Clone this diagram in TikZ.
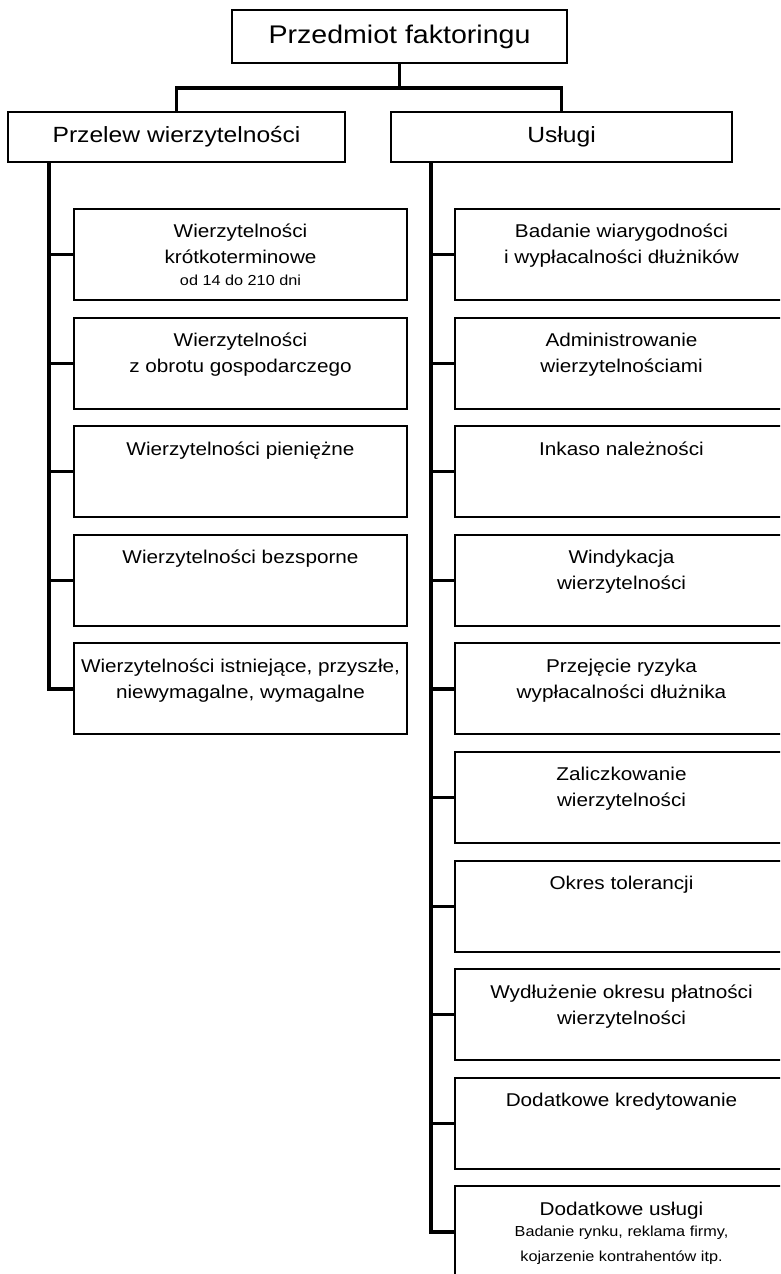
\documentclass[tikz,border=0pt]{standalone}
\usepackage{fontspec}
\setmainfont{Liberation Sans}[FakeStretch=1.12]
\usetikzlibrary{calc}
\begin{document}
\begin{tikzpicture}[x=1pt,y=-1pt,
  conn/.style={line width=3.2pt},
  box/.style={draw, line width=2pt, minimum width=333pt, minimum height=91pt, inner sep=0pt, outer sep=0pt},
  head/.style={draw, line width=2pt, inner sep=0pt, outer sep=0pt},
  txt/.style={align=center, anchor=north, inner sep=0pt, font=\fontsize{18.5}{26}\selectfont},
  small/.style={anchor=base, inner sep=0pt, font=\fontsize{14.5}{25}\selectfont}]
\useasboundingbox (0,0) rectangle (780,1274);
\clip (0,0) rectangle (780,1274);
\fill[white] (0,0) rectangle (780,1274);

% top levels
\node[head, minimum width=335pt, minimum height=53pt, font=\fontsize{25.5}{30}\selectfont] (top) at (399.5,36.5) {Przedmiot faktoringu};
\node[head, minimum width=337pt, minimum height=50pt, font=\fontsize{22}{26}\selectfont] (pl) at (176.5,137) {Przelew wierzytelności};
\node[head, minimum width=341pt, minimum height=50pt, font=\fontsize{22}{26}\selectfont] (us) at (561.5,137) {Usługi};

\coordinate (jn) at ($(top.south)+(0,25)$);
\draw[conn] (top.south) -- (jn);
\draw[conn] (pl.north) |- (jn) -| (us.north);

% left column
\node[box] (l1) at (240.5,254.5) {};
\node[box] (l2) at (240.5,363.1) {};
\node[box] (l3) at (240.5,471.7) {};
\node[box] (l4) at (240.5,580.3) {};
\node[box] (l5) at (240.5,688.9) {};

\node[txt] (l1t) at ([yshift=-15pt]l1.north) {Wierzytelności\\krótkoterminowe};
\node[small] (l1s) at ($(l1.north)+(0,76)$) {od 14 do 210 dni};
\node[txt] (l2t) at ([yshift=-15pt]l2.north) {Wierzytelności\\z obrotu gospodarczego};
\node[txt] (l3t) at ([yshift=-15pt]l3.north) {Wierzytelności pieniężne};
\node[txt] (l4t) at ([yshift=-15pt]l4.north) {Wierzytelności bezsporne};
\node[txt] (l5t) at ([yshift=-15pt]l5.north) {Wierzytelności istniejące, przyszłe,\\niewymagalne, wymagalne};

\coordinate (tl) at ([xshift=41pt]pl.south west);
\draw[conn] (tl) |- (l5.west);
\foreach \n in {l1,l2,l3,l4} \draw[conn] (\n.west) -- (\n.west -| tl);

% right column
\node[box] (r1) at (621.5,254.5) {};
\node[box] (r2) at (621.5,363.1) {};
\node[box] (r3) at (621.5,471.7) {};
\node[box] (r4) at (621.5,580.3) {};
\node[box] (r5) at (621.5,688.9) {};
\node[box] (r6) at (621.5,797.5) {};
\node[box] (r7) at (621.5,906.1) {};
\node[box] (r8) at (621.5,1014.7) {};
\node[box] (r9) at (621.5,1123.3) {};
\node[box] (r10) at (621.5,1231.9) {};

\node[txt] (r1t) at ([yshift=-15pt]r1.north) {Badanie wiarygodności\\i wypłacalności dłużników};
\node[txt] (r2t) at ([yshift=-15pt]r2.north) {Administrowanie\\wierzytelnościami};
\node[txt] (r3t) at ([yshift=-15pt]r3.north) {Inkaso należności};
\node[txt] (r4t) at ([yshift=-15pt]r4.north) {Windykacja\\wierzytelności};
\node[txt] (r5t) at ([yshift=-15pt]r5.north) {Przejęcie ryzyka\\wypłacalności dłużnika};
\node[txt] (r6t) at ([yshift=-15pt]r6.north) {Zaliczkowanie\\wierzytelności};
\node[txt] (r7t) at ([yshift=-15pt]r7.north) {Okres tolerancji};
\node[txt] (r8t) at ([yshift=-15pt]r8.north) {Wydłużenie okresu płatności\\wierzytelności};
\node[txt] (r9t) at ([yshift=-15pt]r9.north) {Dodatkowe kredytowanie};
\node[txt] (r10t) at ([yshift=-15pt]r10.north) {Dodatkowe usługi};
\node[small] (r10s1) at ($(r10.north)+(0,50)$) {Badanie rynku, reklama firmy,};
\node[small] (r10s2) at ($(r10.north)+(0,75)$) {kojarzenie kontrahentów itp.};

\coordinate (tr) at ([xshift=40pt]us.south west);
\draw[conn] (tr) |- (r10.west);
\foreach \n in {r1,r2,r3,r4,r5,r6,r7,r8,r9} \draw[conn] (\n.west) -- (\n.west -| tr);
\end{tikzpicture}
\end{document}
